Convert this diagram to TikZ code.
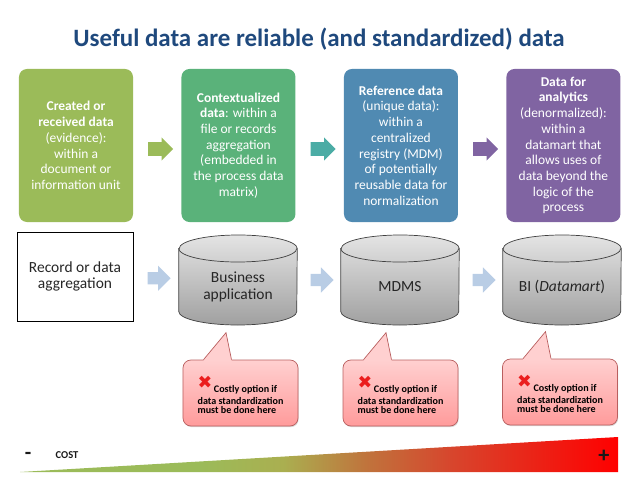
\documentclass[tikz,border=0pt]{standalone}
\usepackage{fontspec}
\setmainfont{Carlito}
\newfontfamily\symfont{DejaVu Sans}
\usepackage{xcolor}
\usepackage{tikz}
\usetikzlibrary{shapes.geometric, shapes.arrows, positioning, shadows, calc}
\definecolor{titleblue}{RGB}{31,73,125}
\definecolor{stagegreen}{RGB}{155,187,89}
\definecolor{stageteal}{RGB}{90,178,122}
\definecolor{stageblue}{RGB}{80,138,178}
\definecolor{stagepurple}{RGB}{128,100,162}
\definecolor{arrowteal}{RGB}{75,172,165}
\definecolor{arrowblue}{RGB}{185,205,229}
\definecolor{dbtop}{RGB}{228,228,228}
\definecolor{dbbottom}{RGB}{160,160,160}
\definecolor{notetop}{RGB}{255,208,208}
\definecolor{notebottom}{RGB}{255,155,155}
\definecolor{noteline}{RGB}{185,95,95}
\definecolor{xred}{RGB}{235,30,30}
\definecolor{costgreen}{RGB}{155,187,89}
\definecolor{costolive}{RGB}{170,175,80}
\definecolor{costbrown}{RGB}{192,115,60}
\definecolor{costorange}{RGB}{215,70,45}
\definecolor{costred}{RGB}{255,0,0}
\pgfdeclarehorizontalshading{costshade}{100bp}{color(0bp)=(costgreen); color(25bp)=(costgreen);
  color(40bp)=(costgreen); color(47bp)=(costolive); color(54bp)=(costbrown);
  color(61bp)=(costorange); color(75bp)=(costred); color(100bp)=(costred)}

\begin{document}
\begin{tikzpicture}[
  x=0.03cm, y=-0.03cm,
  stagebox/.style  = {rectangle, rounded corners=0.24cm, minimum width=3.42cm,
                      minimum height=4.59cm, align=center, text=white, inner sep=0pt,
                      font=\fontsize{11.5}{13.4}\selectfont},
  flowarrow/.style = {single arrow, minimum height=0.75cm, inner xsep=0pt,
                      inner ysep=0.2cm, single arrow head extend=0.14cm},
  linkarrow/.style = {single arrow, fill=arrowblue, minimum height=0.69cm, inner xsep=0pt,
                      inner ysep=0.18cm, single arrow head extend=0.195cm},
  recbox/.style    = {rectangle, draw=black, line width=0.8pt, minimum width=3.48cm,
                      minimum height=2.67cm, align=center, text=black!85,
                      font=\fontsize{13.2}{14}\selectfont},
  dbbox/.style     = {rectangle, minimum width=3.54cm, minimum height=2.7cm, inner sep=0pt},
  dbshade/.style   = {draw=black!75, line width=0.6pt, top color=dbtop, bottom color=dbbottom},
  dblabel/.style   = {align=center, text=black!85, font=\fontsize{13.2}{14.5}\selectfont},
  notebox/.style   = {rectangle, rounded corners=0.24cm, draw=noteline, line width=0.6pt,
                      top color=notetop, bottom color=notebottom, minimum width=3.45cm,
                      minimum height=1.98cm, align=left, inner sep=0pt,
                      font=\fontsize{8.6}{8}\selectfont\bfseries,
                      drop shadow={shadow xshift=0.6pt, shadow yshift=-1pt, opacity=0.3}},
  costlabel/.style = {font=\bfseries, text=black!90, inner sep=0pt},
]

%% --- Title ---
\node[font=\fontsize{21.3}{24}\selectfont\bfseries, text=titleblue] (title) at (319,39)
  {Useful data are reliable (and standardized) data};

%% --- Top row: kinds of data ---
\node[stagebox, fill=stagegreen] (b1) at (76,145.5)
  {\textbf{Created or}\\\textbf{received data}\\(evidence):\\within a\\document or\\information unit};
\node[stagebox, fill=stageteal, right=1.44cm of b1] (b2)
  {\textbf{Contextualized}\\\textbf{data}: within a\\file or records\\aggregation\\(embedded in\\the process data\\matrix)};
\node[stagebox, fill=stageblue, right=1.44cm of b2] (b3)
  {\textbf{Reference data}\\(unique data):\\within a\\centralized\\registry (MDM)\\of potentially\\reusable data for\\normalization};
\node[stagebox, fill=stagepurple, right=1.44cm of b3] (b4)
  {\textbf{Data for}\\\textbf{analytics}\\(denormalized):\\within a\\datamart that\\allows uses of\\data beyond the\\logic of the\\process};

%% --- Top arrows ---
\node[flowarrow, fill=stagegreen]  (a1) at ($(b1.east)!0.5!(b2.west)+(0,3.5)$) {};
\node[flowarrow, fill=arrowteal]   (a2) at ($(b2.east)!0.5!(b3.west)+(0,3.5)$) {};
\node[flowarrow, fill=stagepurple] (a3) at ($(b3.east)!0.5!(b4.west)+(0,3.5)$) {};

%% --- Bottom row: where data live ---
\node[recbox] (rec) at (75,276.5) {Record or data\\aggregation};
\node[dbbox] (db1) at (238,280) {};
\node[dbbox] (db2) at (400,280) {};
\node[dbbox] (db3) at (562,280) {};

\foreach \n in {1,2,3} {
  \path[dbshade] ($(db\n.west)+(0,-31.5)$) -- ($(db\n.west)+(0,31.5)$)
    arc[start angle=180, end angle=360, x radius=1.77cm, y radius=0.405cm]
    -- ($(db\n.east)+(0,-31.5)$)
    arc[start angle=0, end angle=180, x radius=1.77cm, y radius=0.405cm] -- cycle;
  \draw[black!75, line width=0.6pt] ($(db\n.west)+(0,-31.5)$)
    arc[start angle=180, end angle=360, x radius=1.77cm, y radius=0.405cm];
}

\node[dblabel] (t1) at ($(db1)+(0,7)$) {Business\\application};
\node[dblabel] (t2) at ($(db2)+(0,7)$) {MDMS};
\node[dblabel] (t3) at ($(db3)+(0,7)$) {BI (\textit{Datamart})};

%% --- Bottom arrows ---
\node[linkarrow] (l1) at ($(rec.east)!0.5!(db1.west)$) {};
\node[linkarrow] (l2) at ($(db1.east)!0.5!(db2.west)$) {};
\node[linkarrow] (l3) at ($(db2.east)!0.5!(db3.west)$) {};

%% --- Warnings ---
\newcommand{\costlynote}{\rule{0pt}{17pt}\raisebox{3pt}{\symfont\fontsize{15}{15}\selectfont\textcolor{xred}{✖}}\,Costly option if\\[2pt]
  data standardization\\must be done here}
\node[notebox] (n1) at (240.5,393) {\costlynote};
\node[notebox] (n2) at (400.5,393) {\costlynote};
\node[notebox] (n3) at (560,392)   {\costlynote};

\foreach \n in {1,2,3} {
  \coordinate (p\n l) at ($(n\n.north)+(-37,0)$);
  \coordinate (p\n r) at ($(n\n.north)+(-9,0)$);
  \coordinate (p\n t) at ($(n\n.north)+(-14.5,-27)$);
  \fill[notetop] (p\n l) -- (p\n t) -- (p\n r) -- ($(p\n r)+(0,1.3)$) -- ($(p\n l)+(0,1.3)$) -- cycle;
  \draw[noteline, line width=0.6pt, line join=miter] (p\n l) -- (p\n t) -- (p\n r);
}

%% --- Cost wedge ---
\coordinate (costL)  at (20,472);
\coordinate (costTR) at (618,437);
\coordinate (costBR) at (618,472);
\shade[shading=costshade] (costL) -- (costTR) -- (costBR) -- cycle;
\node[costlabel, font=\fontsize{18}{18}\selectfont\bfseries] (minus) at (28,456) {-};
\node[costlabel, font=\fontsize{9}{9}\selectfont\bfseries]   (cost)  at (67,455) {COST};
\node[costlabel, font=\fontsize{19}{19}\selectfont\bfseries] (plus)  at (604,456) {+};

\useasboundingbox (0,0) rectangle (638,479);
\end{tikzpicture}
\end{document}
